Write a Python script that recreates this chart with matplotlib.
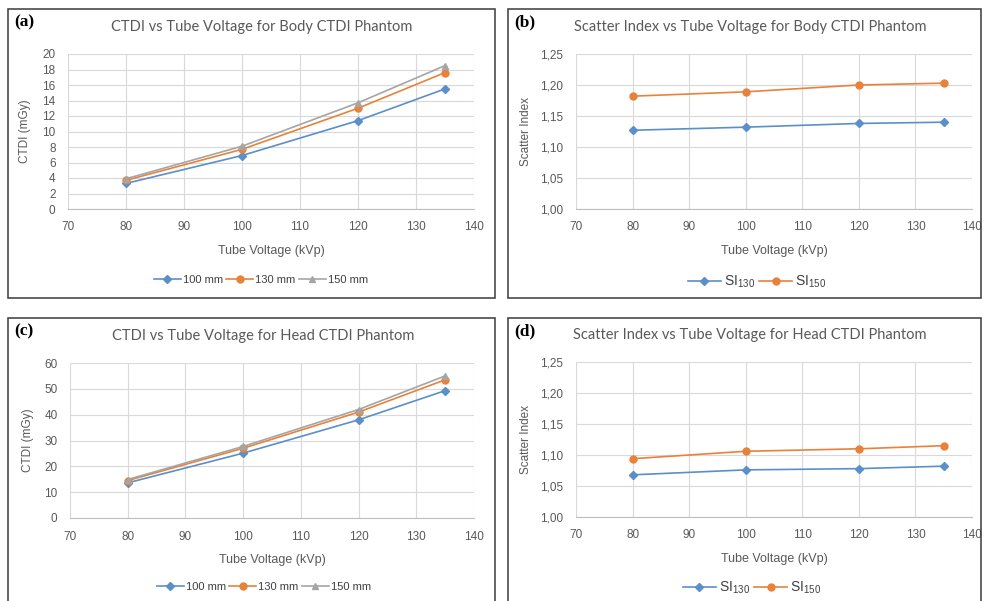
import matplotlib
matplotlib.use("Agg")
import matplotlib.pyplot as plt
from matplotlib.patches import Rectangle
from matplotlib.ticker import FuncFormatter

# data
kvp = [80, 100, 120, 135]

body_100 = [3.3, 6.9, 11.4, 15.5]
body_130 = [3.7, 7.7, 13.0, 17.6]
body_150 = [3.9, 8.1, 13.7, 18.5]

body_si130 = [1.127, 1.132, 1.138, 1.140]
body_si150 = [1.182, 1.189, 1.200, 1.203]

head_100 = [13.6, 25.1, 38.0, 49.3]
head_130 = [14.5, 27.0, 41.0, 53.5]
head_150 = [14.9, 27.7, 42.0, 55.0]

head_si130 = [1.068, 1.076, 1.078, 1.082]
head_si150 = [1.094, 1.106, 1.110, 1.115]

ctdi_labels = ["100 mm", "130 mm", "150 mm"]
si_labels = [r"SI$_{\mathregular{130}}$", r"SI$_{\mathregular{150}}$"]

BLUE = "#5B8FC9"
ORANGE = "#E8823A"
GRAY = "#A5A5A5"
TXT = "#595959"
W, H = 982, 601

plt.rcParams["font.family"] = ["Liberation Sans", "DejaVu Sans"]

fig = plt.figure(figsize=(W / 100, H / 100), dpi=100)


def px(x0, y0, x1, y1):
    # pixel box -> figure fraction [left, bottom, width, height]
    return [x0 / W, 1 - y1 / H, (x1 - x0) / W, (y1 - y0) / H]


def frame(x0, y0, x1, y1):
    fig.patches.append(Rectangle((x0 / W, 1 - y1 / H), (x1 - x0) / W, (y1 - y0) / H,
                                 transform=fig.transFigure, fill=False,
                                 edgecolor="#3a3a3a", linewidth=1.1))


def style(ax, ylim, yticks, comma=False):
    ax.set_xlim(70, 140)
    ax.set_xticks(range(70, 141, 10))
    ax.set_ylim(*ylim)
    ax.set_yticks(yticks)
    if comma:
        ax.yaxis.set_major_formatter(FuncFormatter(lambda v, p: ("%.2f" % v).replace(".", ",")))
    ax.grid(True, color="#D9D9D9", linewidth=0.8)
    ax.set_axisbelow(True)
    for s in ["top", "right", "left"]:
        ax.spines[s].set_visible(False)
    ax.spines["bottom"].set_color("#BFBFBF")
    ax.tick_params(length=0, labelsize=8.5, labelcolor=TXT)
    ax.tick_params(axis="x", pad=9)
    ax.tick_params(axis="y", pad=9)
    ax.set_xlabel("Tube Voltage (kVp)", fontsize=9, color=TXT)
    ax.xaxis.set_label_coords(0.5, -0.235)


def ctdi_panel(rect, ys, ylim, yticks, leg_xy):
    ax = fig.add_axes(rect)
    ax.plot(kvp, ys[0], color=BLUE, marker="D", markersize=4, lw=1.2, label=ctdi_labels[0])
    ax.plot(kvp, ys[1], color=ORANGE, marker="o", markersize=5, lw=1.2, label=ctdi_labels[1])
    ax.plot(kvp, ys[2], color=GRAY, marker="^", markersize=5, lw=1.2, label=ctdi_labels[2])
    style(ax, ylim, yticks)
    ax.set_ylabel("CTDI (mGy)", fontsize=8.5, color=TXT)
    ax.yaxis.set_label_coords(-0.09, 0.5)
    fig.legend(handles=ax.get_lines(), loc="center", bbox_to_anchor=leg_xy, ncol=3,
               frameon=False, fontsize=8, labelcolor="#404040", handlelength=2.4,
               columnspacing=0.3, handletextpad=0.2)
    return ax


def si_panel(rect, ys, leg_xy):
    ax = fig.add_axes(rect)
    ax.plot(kvp, ys[0], color=BLUE, marker="D", markersize=4, lw=1.2, label=si_labels[0])
    ax.plot(kvp, ys[1], color=ORANGE, marker="o", markersize=5, lw=1.2, label=si_labels[1])
    style(ax, (1.0, 1.25), [1.0, 1.05, 1.10, 1.15, 1.20, 1.25], comma=True)
    ax.set_ylabel("Scatter Index", fontsize=8.5, color=TXT)
    ax.yaxis.set_label_coords(-0.112, 0.5)
    fig.legend(handles=ax.get_lines(), loc="center", bbox_to_anchor=leg_xy, ncol=2,
               frameon=False, fontsize=10, labelcolor="#404040", handlelength=2.4,
               columnspacing=0.3, handletextpad=0.2)
    return ax


# panel frames
frame(8, 9, 495, 298)
frame(508, 9, 981, 298)
frame(8, 318, 495, 610)
frame(508, 318, 981, 610)

ctdi_panel(px(68, 54, 474, 209), [body_100, body_130, body_150], (0, 20), range(0, 21, 2),
           (261 / W, 1 - 280 / H))
si_panel(px(576, 54, 972, 209), [body_si130, body_si150], (757 / W, 1 - 282 / H))
ctdi_panel(px(70, 363, 474, 518), [head_100, head_130, head_150], (0, 60), range(0, 61, 10),
           (264 / W, 1 - 587 / H))
si_panel(px(576, 362, 972, 517), [head_si130, head_si150], (752 / W, 1 - 588 / H))

# titles and panel letters
titles = [("CTDI vs Tube Voltage for Body CTDI Phantom", 262, 27),
          ("Scatter Index vs Tube Voltage for Body CTDI Phantom", 750, 27),
          ("CTDI vs Tube Voltage for Head CTDI Phantom", 263, 336),
          ("Scatter Index vs Tube Voltage for Head CTDI Phantom", 750, 335)]
for t, x, y in titles:
    fig.text(x / W, 1 - y / H, t, ha="center", va="center", fontsize=10.5,
             color=TXT, family=["Lato", "DejaVu Sans"])

letters = [("(a)", 14, 22), ("(b)", 514, 22), ("(c)", 14, 331), ("(d)", 514, 331)]
for t, x, y in letters:
    fig.text(x / W, 1 - y / H, t, ha="left", va="center", fontsize=12.5,
             fontweight="bold", family=["Liberation Serif", "DejaVu Serif"])

fig.savefig("out.png", dpi=100)
